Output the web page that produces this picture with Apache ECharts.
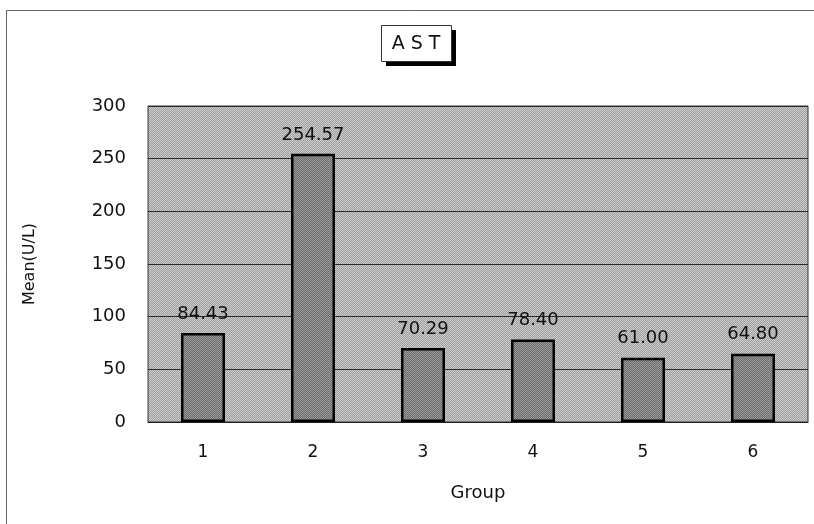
<!DOCTYPE html>
<html>
<head>
<meta charset="utf-8">
<script src="https://cdn.jsdelivr.net/npm/echarts@6/dist/echarts.min.js"></script>
<style>
  html, body { margin: 0; padding: 0; background: #fff; }
  #chart { width: 814px; height: 524px; }
</style>
</head>
<body>
<div id="chart"></div>
<script>
// AST mean by group
const groups = ['1', '2', '3', '4', '5', '6'];
const astMeans = [84.43, 254.57, 70.29, 78.40, 61.00, 64.80];
const yTicks = { min: 0, max: 300, interval: 50 };

// small halftone-like tile used as a fill
function ditherTile(light, dark) {
  const c = document.createElement('canvas');
  c.width = 4; c.height = 4;
  const g = c.getContext('2d');
  for (let y = 0; y < 4; y++) {
    for (let x = 0; x < 4; x++) {
      g.fillStyle = (x + y) % 2 === 0 ? light : dark;
      g.fillRect(x, y, 1, 1);
    }
  }
  return { image: c, repeat: 'repeat' };
}

const plotFill = ditherTile('#cdcdcd', '#9e9e9e');
const barFill = ditherTile('#9a9a9a', '#6c6c6c');

const chart = echarts.init(document.getElementById('chart'));
const font = '"DejaVu Sans", Arial, sans-serif';

chart.setOption({
  animation: false,
  backgroundColor: '#ffffff',
  grid: {
    left: 148, right: 6, top: 106, bottom: 102,
    show: true,
    backgroundColor: plotFill,
    borderColor: '#333',
    borderWidth: 1
  },
  xAxis: {
    type: 'category',
    data: groups,
    name: 'Group',
    nameLocation: 'middle',
    nameGap: 62,
    nameTextStyle: { fontFamily: font, fontSize: 18, color: '#111' },
    axisLine: { lineStyle: { color: '#222', width: 1 } },
    axisTick: { show: false },
    axisLabel: { fontFamily: font, fontSize: 17, color: '#111', margin: 22 }
  },
  yAxis: {
    type: 'value',
    min: yTicks.min, max: yTicks.max, interval: yTicks.interval,
    name: 'Mean(U/L)',
    nameLocation: 'middle',
    nameGap: 110,
    nameRotate: 90,
    nameTextStyle: { fontFamily: font, fontSize: 16, color: '#111' },
    axisLine: { show: false },
    axisTick: { show: false },
    axisLabel: { fontFamily: font, fontSize: 18, color: '#111', margin: 22 },
    splitLine: { lineStyle: { color: '#2a2a2a', width: 1 } }
  },
  series: [{
    type: 'bar',
    data: astMeans,
    barWidth: 44,
    itemStyle: { color: barFill, borderColor: '#000', borderWidth: 2.5 },
    label: {
      show: true,
      position: 'top',
      distance: 10,
      fontFamily: font,
      fontSize: 18,
      color: '#111',
      formatter: p => p.value.toFixed(2)
    }
  }],
  graphic: [
    // outer chart frame (top and left edges)
    { type: 'polyline', silent: true,
      shape: { points: [[6.5, 524], [6.5, 10.5], [814, 10.5]] },
      style: { stroke: '#666', lineWidth: 1, fill: null } },
    // title box with drop shadow
    { type: 'rect', silent: true,
      shape: { x: 386, y: 30, width: 70, height: 36 },
      style: { fill: '#000' } },
    { type: 'rect', silent: true,
      shape: { x: 381.5, y: 25.5, width: 70, height: 36 },
      style: { fill: '#fff', stroke: '#333', lineWidth: 1 } },
    { type: 'text', silent: true,
      x: 416, y: 44,
      style: { text: 'A S T', fill: '#111', font: '19px ' + font, align: 'center', verticalAlign: 'middle' } }
  ]
});
</script>
</body>
</html>
